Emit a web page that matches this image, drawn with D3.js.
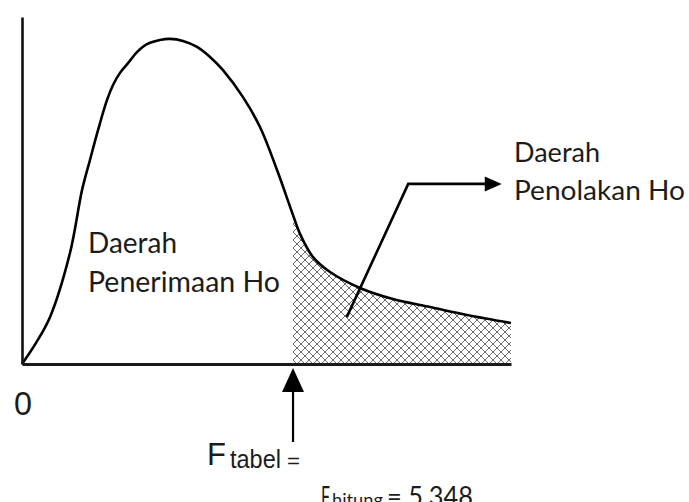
<!DOCTYPE html>
<html>
<head>
<meta charset="utf-8">
<script src="https://cdn.jsdelivr.net/npm/d3@7"></script>
<style>
  html, body { margin: 0; padding: 0; background: #fff; }
  svg { display: block; }
</style>
</head>
<body>
<svg id="chart" width="689" height="502"></svg>
<script>
// ---- data (arbitrary F-distribution sketch units) ----
const curveX = [0, 0.171, 0.341, 0.585, 0.732, 0.829, 0.927, 1.037, 1.110, 1.195, 1.293, 1.402, 1.524, 1.683, 1.805, 1.963, 2.134, 2.293, 2.451, 2.695, 2.902, 3.110, 3.305, 3.390, 3.549, 3.756, 4.122, 4.524, 4.976, 5.427, 5.963];
const curveY = [0, 0.061, 0.135, 0.320, 0.501, 0.588, 0.674, 0.761, 0.804, 0.839, 0.867, 0.899, 0.922, 0.934, 0.937, 0.931, 0.914, 0.885, 0.847, 0.769, 0.683, 0.559, 0.429, 0.375, 0.308, 0.265, 0.219, 0.187, 0.164, 0.141, 0.118];
const fTabel = 3.305;
const xLabel0 = "0";
const leftLabel = ["Daerah", "Penerimaan Ho"];
const rightLabel = ["Daerah", "Penolakan Ho"];
const pointer = { fromX: 3.96, fromY: 0.135, cornerX: 4.71, cornerY: 0.519, tipX: 5.85 };
const fTabelText = { main: "F", sub: "tabel", eq: "=" };
const fHitungText = { main: "F", sub: "hitung", rest: "= 5,348" };

const svg = d3.select("#chart");
svg.append("rect").attr("width", 689).attr("height", 502).attr("fill", "#fff");

const x = d3.scaleLinear().domain([0, 5.963]).range([22, 511]);
const y = d3.scaleLinear().domain([0, 1]).range([364, 17]);

const pts = curveX.map((v, i) => [v, curveY[i]]);

// hatch pattern (cross-hatch diamonds)
const T = 8;
const defs = svg.append("defs");
const pat = defs.append("pattern").attr("id", "hatch")
  .attr("patternUnits", "userSpaceOnUse").attr("width", T).attr("height", T)
  .attr("x", Math.round(x(fTabel))).attr("y", 0);
pat.append("path")
  .attr("d", `M0,0 L${T},${T} M0,${T} L${T},0`)
  .attr("stroke", "#5a5a5a").attr("stroke-width", 0.9).attr("fill", "none")
  .attr("shape-rendering", "crispEdges");
defs.append("clipPath").attr("id", "rej").append("rect")
  .attr("x", x(fTabel)).attr("y", 0).attr("width", 689 - x(fTabel)).attr("height", y(0));

const curve = d3.curveCatmullRom.alpha(0.5);
svg.append("path").datum(pts)
  .attr("clip-path", "url(#rej)")
  .attr("fill", "url(#hatch)")
  .attr("d", d3.area().x(d => x(d[0])).y0(y(0)).y1(d => y(d[1])).curve(curve));

svg.append("path").datum(pts)
  .attr("fill", "none").attr("stroke", "#000").attr("stroke-width", 2.6)
  .attr("stroke-linejoin", "round")
  .attr("d", d3.line().x(d => x(d[0])).y(d => y(d[1])).curve(curve));

// axes
const xAxis = svg.append("g").attr("transform", `translate(0,${y(0)})`)
  .call(d3.axisBottom(x).tickValues([]).tickSizeOuter(0));
xAxis.select(".domain").attr("stroke", "#1a1a1a").attr("stroke-width", 2.8);
const yAxis = svg.append("g").attr("transform", `translate(${x(0)},0)`)
  .call(d3.axisLeft(y).tickValues([]).tickSizeOuter(0));
yAxis.select(".domain").attr("stroke", "#111").attr("stroke-width", 2.6);

// up arrow at F tabel
const ax = x(fTabel), tipY = y(0) + 4;
svg.append("line").attr("x1", ax).attr("x2", ax).attr("y1", tipY + 20).attr("y2", tipY + 74)
  .attr("stroke", "#000").attr("stroke-width", 2.2);
svg.append("path").attr("fill", "#000")
  .attr("d", `M${ax},${tipY} L${ax + 11},${tipY + 24} L${ax - 11},${tipY + 24} Z`);

// pointer arrow to rejection label
const px0 = x(pointer.fromX), py0 = y(pointer.fromY), pcx = x(pointer.cornerX), pcy = y(pointer.cornerY), ptx = x(pointer.tipX);
svg.append("path").attr("fill", "none").attr("stroke", "#000").attr("stroke-width", 2.6)
  .attr("stroke-linejoin", "miter")
  .attr("d", `M${px0},${py0} L${pcx},${pcy} L${ptx - 14},${pcy}`);
svg.append("path").attr("fill", "#000")
  .attr("d", `M${ptx},${pcy} L${ptx - 17},${pcy - 7.5} L${ptx - 17},${pcy + 7.5} Z`);

// texts
const sans = "Lato, 'Open Sans', sans-serif";
const arial = "'Liberation Sans', Arial, sans-serif";
const ink = "#1c1c1c";
function txt(s, tx, ty, size, fam, len) {
  const t = svg.append("text").attr("x", tx).attr("y", ty).attr("font-size", size)
    .attr("font-family", fam).attr("fill", ink).text(s);
  if (len) t.attr("textLength", len).attr("lengthAdjust", "spacingAndGlyphs");
  return t;
}
txt(leftLabel[0], 88, 253, 28, sans, 89);
txt(leftLabel[1], 88, 292, 28, sans, 192);
txt(rightLabel[0], 514, 162, 26, sans, 86);
txt(rightLabel[1], 514, 200, 26, sans, 171);

txt(xLabel0, x(0) - 8, 415, 34, arial, 18);

txt(fTabelText.main, 207, 465, 31, arial);
txt(fTabelText.sub, 230, 468, 25, arial, 51);
txt(fTabelText.eq, 287, 468, 20, arial, 13);

txt(fHitungText.main, 321, 506, 27, sans, 9);
txt(fHitungText.sub, 332, 506, 18, sans, 51);
txt(fHitungText.rest, 387, 506, 27, sans, 86);
</script>
</body>
</html>
